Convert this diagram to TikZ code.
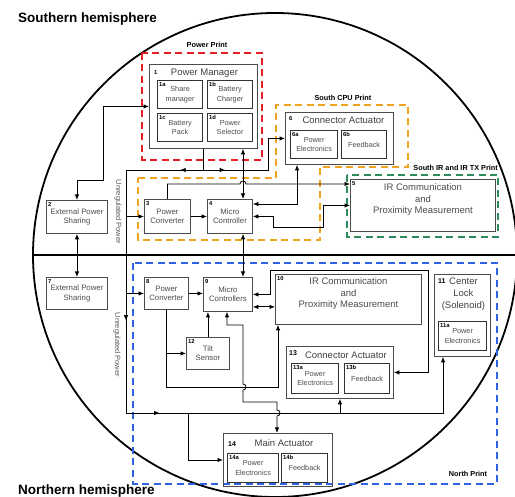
\documentclass[tikz,border=0pt]{standalone}
\usepackage{fontspec}
\setmainfont{Liberation Sans}
\usetikzlibrary{arrows.meta,calc,decorations.markings}

\definecolor{powerred}{RGB}{228,32,38}
\definecolor{cpuorange}{RGB}{240,163,32}
\definecolor{irgreen}{RGB}{46,140,90}
\definecolor{northblue}{RGB}{46,98,226}

\tikzset{
  unit/.style={draw=black!70, line width=0.9pt, anchor=north west, inner sep=0pt,
    align=center, text=black!70, font=\fontsize{7.8}{9.5}\selectfont},
  part/.style={draw=black!80, line width=1.2pt, anchor=north west, inner sep=0pt,
    align=center, text=black!70, font=\fontsize{7.3}{9.5}\selectfont},
  num/.style={anchor=north west, inner sep=0pt, font=\bfseries\fontsize{5.8}{6}\selectfont},
  ttl/.style={inner sep=0pt, text=black!75, font=\fontsize{9.5}{12}\selectfont},
  printlbl/.style={inner sep=0pt, font=\bfseries\fontsize{7.3}{8}\selectfont},
  printbox/.style={line width=2.6pt, dash pattern=on 7pt off 4.5pt},
  link/.style={line width=0.8pt, -{Latex[length=5.5pt,width=4.5pt]}},
  dlink/.style={line width=0.8pt, {Latex[length=5.5pt,width=4.5pt]}-{Latex[length=5.5pt,width=4.5pt]}},
  midarr/.style={postaction={decorate}, decoration={markings,
    mark=at position #1 with {\arrow{Latex[length=5.5pt,width=4.5pt]}}}},
}

\begin{document}
\begin{tikzpicture}[x=1pt, y=-1pt]
    \useasboundingbox (0,0) rectangle (515,497);
    \clip (0,0) rectangle (515,497);

    % Hemispheres
    \draw[line width=1.8pt] (275,255) circle[radius=242];
    \draw[line width=1.8pt] (33,255) -- (517,255);
    \node[anchor=west, inner sep=0pt, font=\bfseries\fontsize{13.5}{16}\selectfont] (south) at (18,19) {Southern hemisphere};
    \node[anchor=west, inner sep=0pt, font=\bfseries\fontsize{13.5}{16}\selectfont] (north) at (18,491) {Northern hemisphere};

    % Prints
    \draw[printbox, powerred] (142,53) rectangle (262,160);
    \draw[printbox, cpuorange] (138,178) -- (276,178) -- (276,105) -- (408,105) -- (408,167)
        -- (320,167) -- (320,240) -- (138,240) -- cycle;
    \draw[printbox, irgreen] (347,175) rectangle (498,237);
    \draw[printbox, northblue] (133,263) rectangle (497,484);
    \node[printlbl] (lpower) at (207,45) {Power Print};
    \node[printlbl] (lcpu) at (343,98) {South CPU Print};
    \node[printlbl, anchor=east] (lir) at (498,168) {South IR and IR TX Print};
    \node[printlbl] (lnorth) at (468,474) {North Print};

    % Southern units
    \node[unit, minimum width=108pt, minimum height=84pt] (pm) at (149,64) {};
    \node[num, anchor=west] at ($(pm.north west)+(5,9)$) {1};
    \node[ttl] at ($(pm.north)+(1,9)$) {Power Manager};
    \node[part, minimum width=45pt, minimum height=28pt] (s1a) at (157,80) {Share\\manager};
    \node[part, minimum width=45pt, minimum height=28pt] (s1b) at (207,80) {Battery\\Charger};
    \node[part, minimum width=45pt, minimum height=28pt] (s1c) at (157,113) {Battery\\Pack};
    \node[part, minimum width=45pt, minimum height=28pt] (s1d) at (207,113) {Power\\Selector};
    \foreach \n/\t in {s1a/1a, s1b/1b, s1c/1c, s1d/1d}
        \node[num] at ($(\n.north west)+(2,2)$) {\t};

    \node[unit, minimum width=61pt, minimum height=33pt] (ext2) at (46,200) {External Power\\Sharing};
    \node[unit, minimum width=46pt, minimum height=34pt] (pc3) at (144,199) {Power\\Converter};
    \node[unit, minimum width=45pt, minimum height=34pt] (mc4) at (207,199) {Micro\\Controller};
    \node[unit, minimum width=145pt, minimum height=52pt, font=\fontsize{9.5}{11.5}\selectfont] (ir5) at (350,179)
        {IR Communication\\and\\Proximity Measurement\\[2pt]};

    \node[unit, minimum width=108pt, minimum height=52pt] (ca6) at (285,112) {};
    \node[num, anchor=west] at ($(ca6.north west)+(4,7)$) {6};
    \node[ttl] at ($(ca6.north)+(4,8)$) {Connector Actuator};
    \node[part, minimum width=47pt, minimum height=28pt] (s6a) at (290,130) {Power\\Electronics};
    \node[part, minimum width=45pt, minimum height=28pt] (s6b) at (341,130) {Feedback};
    \foreach \n/\t in {s6a/6a, s6b/6b}
        \node[num] at ($(\n.north west)+(2,2)$) {\t};
    \foreach \n/\t in {ext2/2, pc3/3, mc4/4, ir5/5}
        \node[num] at ($(\n.north west)+(2,2)$) {\t};

    % Northern units
    \node[unit, minimum width=61pt, minimum height=32pt] (ext7) at (46,277) {External Power\\Sharing};
    \node[unit, minimum width=44pt, minimum height=32pt] (pc8) at (144,277) {Power\\Converter};
    \node[unit, minimum width=49pt, minimum height=34pt] (mc9) at (203,277) {Micro\\Controllers};
    \node[unit, minimum width=146pt, minimum height=50pt, font=\fontsize{9.5}{11.5}\selectfont] (ir10) at (275,274)
        {IR Communication\\and\\Proximity Measurement\\[2pt]};
    \node[unit, minimum width=43pt, minimum height=32pt] (tilt12) at (186,337) {Tilt\\Sensor};

    \node[unit, minimum width=56pt, minimum height=82pt] (cl11) at (434,274) {};
    \node[ttl, align=center, anchor=north] at ($(cl11.north)+(1,4)$) {Center\\Lock\\(Solenoid)};
    \node[part, minimum width=48pt, minimum height=29pt] (s11a) at (438,321) {Power\\Electronics};

    \node[unit, minimum width=107pt, minimum height=52pt] (ca13) at (286,346) {};
    \node[ttl] at ($(ca13.north)+(6,9)$) {Connector Actuator};
    \node[part, minimum width=47pt, minimum height=30pt] (s13a) at (291,363) {Power\\Electronics};
    \node[part, minimum width=45pt, minimum height=30pt] (s13b) at (344,363) {Feedback};

    \node[unit, minimum width=109pt, minimum height=53pt] (ma14) at (223,433) {};
    \node[num, anchor=west, font=\bfseries\fontsize{7}{7}\selectfont] at ($(ma14.north west)+(5,11)$) {14};
    \node[ttl] at ($(ma14.north)+(6,10)$) {Main Actuator};
    \node[part, minimum width=51pt, minimum height=29pt] (s14a) at (227,453) {Power\\Electronics};
    \node[part, minimum width=46pt, minimum height=29pt] (s14b) at (281,453) {Feedback};

    \foreach \n/\t in {ext7/7, pc8/8, mc9/9, ir10/10, tilt12/12, s13a/13a, s13b/13b, s11a/11a, s14a/14a, s14b/14b}
        \node[num] at ($(\n.north west)+(2,2)$) {\t};
    \node[num, font=\bfseries\fontsize{7}{7}\selectfont] at ($(cl11.north west)+(4,4)$) {11};
    \node[num, font=\bfseries\fontsize{7}{7}\selectfont] at ($(ca13.north west)+(3,4)$) {13};

    % Unregulated power bus
    \coordinate (ub1) at (126,170);
    \coordinate (ub2) at (126,413);
    \node[rotate=-90, inner sep=0pt, text=black!65, font=\fontsize{7.5}{8}\selectfont] (unreg1) at (118,212) {Unregulated Power};
    \node[rotate=-90, inner sep=0pt, text=black!65, font=\fontsize{7.5}{8}\selectfont] (unreg2) at (117,345) {Unregulated Power};
    \draw[line width=0.8pt, midarr=0.62] (ub1) -- (ub2);

    % Southern connectors
    \coordinate (pj) at (pm.south |- ub1);
    \coordinate (cj) at (243,170);
    \coordinate (k6) at (268,170);
    \coordinate (j2) at (103,180);
    \draw[line width=0.8pt] (pm.south) -- (pj);
    \draw[line width=0.8pt, midarr=0.3] (pj) -- (ub1);
    \draw[line width=0.8pt, midarr=0.55] (pj) -- (cj);
    \draw[link] (cj) -- (k6) |- (ca6.west);
    \draw[dlink] (cj |- pm.south) -- (cj |- mc4.north);
    \draw[dlink] (ext2.north) |- (j2) |- (pm.west);
    \draw[dlink] (ext2.south) -- (ext7.north);
    \draw[link] (ub1 |- pc3.west) -- (pc3.west);
    \draw[link] (pc3.east) -- (mc4.west);
    \draw[link] (pc3.north) |- (240,184) arc[start angle=180, end angle=360, radius=3]
        -- ($(ir5.north west)+(0,5)$);
    \draw[dlink] ($(mc4.north east)+(0,5)$) -| ($(ca6.south west)+(12,0)$);
    \coordinate (q1) at (273,227);
    \coordinate (q2) at (323,227);
    \draw[dlink] (mc4.east) -| (q1) -- (q2) |- (ir5.west);
    \draw[dlink] (cj |- mc4.south) -- (cj |- mc9.north);

    % Northern connectors
    \draw[link] (ub1 |- pc8.west) -- (pc8.west);
    \draw[link] (pc8.east) -- (mc9.west |- pc8.east);
    \coordinate (t1) at (278,387);
    \draw[link] (pc8.south) |- (t1) -- (t1 |- ir10.south);
    \draw[link] (pc8.south |- tilt12.west) -- (tilt12.west);
    \draw[link] (tilt12.north) -- (tilt12.north |- mc9.south);
    \coordinate (m1) at (243,325);
    \coordinate (m2) at (243,402);
    \coordinate (m3) at (277,402);
    \draw[dlink] ($(mc9.south west)+(24,0)$) |- (m1) -- (243,384) arc[start angle=-90, end angle=90, radius=3]
        -- (m2) -- (m3) -- (277,410) arc[start angle=-90, end angle=90, radius=3] -- (m3 |- ma14.north);
    \coordinate (d9) at ($(mc9.south east)+(0,-5)$);
    \draw[dlink] (d9) -- (d9 -| ir10.west);
    \coordinate (w1) at (270,270);
    \coordinate (w2) at (428,270);
    \draw[dlink] (mc9.east) -| (w1) -- (w2) |- (ca13.east);
    \draw[line width=0.8pt, midarr=0.09, -{Latex[length=5.5pt,width=4.5pt]}] (ub2) -| ($(cl11.south west)+(9,0)$);
    \draw[link] (ca13.south |- ub2) -- (ca13.south);
    \coordinate (b14) at (188,413);
    \draw[link] (b14) |- (ma14.west);
\end{tikzpicture}
\end{document}
